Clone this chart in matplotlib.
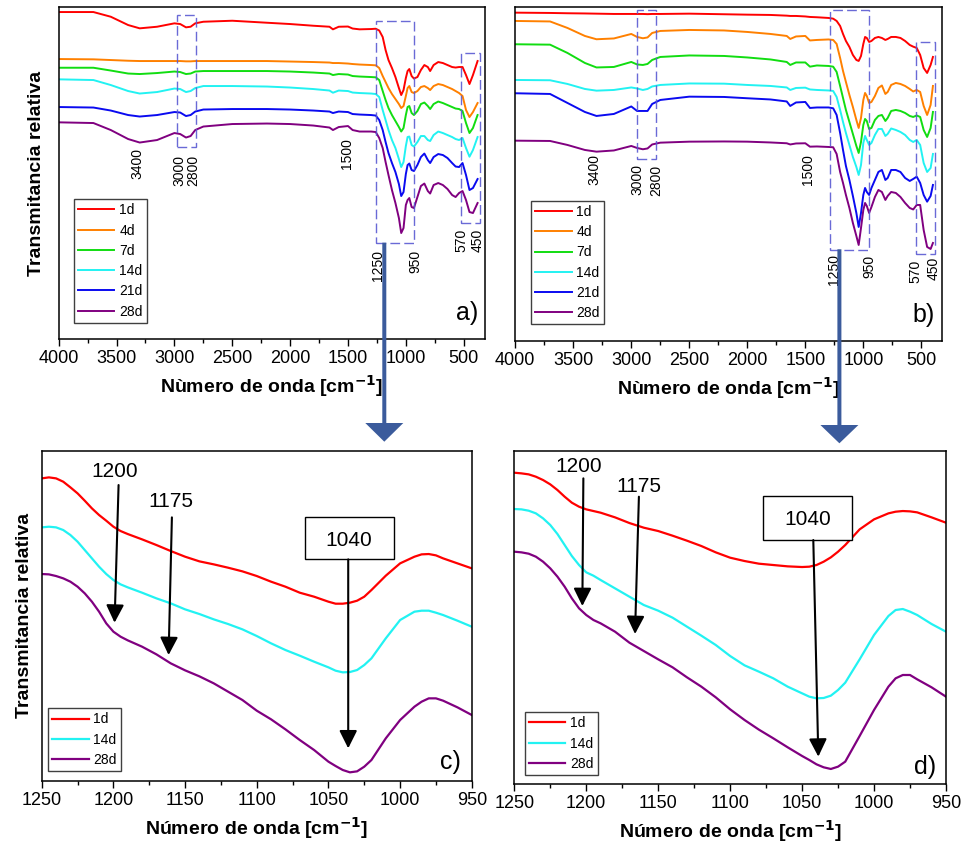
import matplotlib
matplotlib.use("Agg")
import matplotlib.pyplot as plt
from matplotlib.ticker import MultipleLocator
from matplotlib.patches import Rectangle, Polygon

plt.rcParams['font.family'] = ['Liberation Sans', 'DejaVu Sans']

# ---------------- data ----------------
wn_a = [4000, 3700, 3550, 3400, 3300, 3150, 3000, 2950, 2900, 2860, 2820, 2750, 2500, 2200, 2000, 1800,
        1660, 1630, 1580, 1500, 1460, 1400, 1300, 1260, 1230, 1200, 1175, 1150, 1120, 1090, 1060, 1040,
        1020, 1000, 985, 970, 950, 930, 900, 870, 840, 810, 790, 760, 720, 680, 640, 600, 570, 540, 510,
        480, 450, 420, 380]
wn_b = wn_a[:-1] + [400]

labels6 = ["1d", "4d", "7d", "14d", "21d", "28d"]
colors6 = ["#ff0000", "#ff8000", "#11dd11", "#22f2f2", "#0a0af0", "#800080"]

a_1d = [328, 328, 323.3, 315, 311.7, 313.3, 316.7, 316, 312.7, 313.3, 316.7, 318.3, 319.3, 317.3, 316, 314.3,
        313.3, 310.7, 313.3, 313.5, 311.5, 310.7, 311, 311.3, 309.5, 303, 290, 280, 272, 263, 252, 245, 250,
        262, 269, 271, 264, 261.5, 263, 270, 275, 273, 269, 275, 278, 277, 275, 273, 272.5, 273, 273, 265,
        256, 265, 279]
a_4d = [281, 280.7, 280, 279.3, 279, 279, 279, 279, 278.7, 278.7, 279, 279, 279, 279, 278.5, 278, 277.5,
        277, 277, 276.5, 276, 275.5, 275, 274.7, 272, 264, 258, 252, 246, 241, 236, 232, 234, 244, 252, 254,
        248, 247, 249, 253, 254, 252, 250, 254, 256, 255, 253, 251, 249, 247, 244, 230, 223, 228, 237]
a_7d = [272.3, 272.3, 269.5, 266.5, 266, 267, 268.5, 268, 266, 266.5, 268.5, 269, 269, 269, 268.5, 267.5,
        266.5, 265, 266, 265.5, 264, 263.5, 263, 262.7, 260, 249, 240, 232, 225, 219, 213, 208.5, 212, 225,
        233, 234, 227, 225, 229, 236, 237.5, 234, 231, 236, 238.5, 237, 235, 233, 231.5, 231, 229, 217, 207,
        212, 225]
a_14d = [260.7, 260, 255, 249, 246.5, 248, 251.5, 251, 248, 249, 252, 254, 254, 253.5, 252.5, 251, 249.5,
         247.3, 249.5, 249, 247.5, 247, 246.5, 246, 243, 230, 220, 210, 200, 192, 181, 173, 178, 194, 203,
         203.5, 195, 193.5, 198, 204, 204, 200, 199, 205, 208.5, 207, 205, 203, 201, 200, 202, 192, 183.3,
         190, 203]
a_21d = [233, 232.5, 229.5, 225, 223.5, 225, 228, 227.5, 224, 225, 228.5, 230.5, 231, 231, 230.5, 229.5,
         228.5, 227, 228.5, 228, 226, 225.5, 225, 224.5, 220, 210, 198, 187, 177, 168, 156, 144, 148, 166,
         175, 176.5, 170, 169, 175, 183, 186.5, 180, 177, 183, 186, 185, 182, 177, 173.5, 173, 177, 165, 150,
         152, 161]
a_28d = [217.7, 217, 210, 201, 197.5, 200, 207, 206, 202.5, 204, 210, 213.5, 216, 216.5, 216, 214.5, 212.5,
         210, 213, 214, 210, 208.5, 208.5, 208, 202, 192, 178, 165, 150, 137, 122, 107, 112, 135, 140, 142,
         133, 132, 143, 154, 156.5, 149, 146.5, 155, 157, 155, 151, 145, 143, 147, 149, 140, 128, 127, 137]

b_1d = [327.3, 327, 326.7, 326.5, 326.3, 326, 326, 326, 326, 325.8, 326, 326, 326.3, 325.7, 325.3, 325,
        324.3, 324, 324, 323.5, 323, 322.7, 322, 321.3, 319, 314, 306, 299, 293, 285, 280, 279, 284, 296,
        303, 302, 298, 299, 302, 303, 302, 300, 301, 303, 303, 302, 299, 295, 293.3, 292, 285, 272, 267,
        275, 283]
b_4d = [319, 318.5, 312, 304, 300.7, 301.5, 306, 303, 301.7, 302.5, 307, 309, 310, 309.5, 308, 306, 304,
        301, 303.5, 304, 299.5, 300, 300.5, 300, 296, 282, 269, 258, 245, 233, 220, 212, 222, 240, 247, 244,
        237, 238, 244, 252, 254.5, 246, 248, 255, 257, 256, 254, 251, 248.5, 250, 248, 234, 225, 235, 254]
b_7d = [295.7, 295.3, 287, 277, 272.5, 273, 278, 275.5, 275, 276, 280, 283, 284.5, 284, 282.5, 280.5, 278,
        275, 277.5, 277.5, 273.3, 274.5, 274, 273.3, 268, 254, 242, 230, 218, 206, 194, 187, 198, 215, 221,
        219, 211, 212, 220, 224, 225, 219, 222, 229, 230, 229, 227, 224, 223, 224.5, 223, 210, 203, 212, 228]
b_14d = [260, 259.7, 256, 251, 249.3, 250, 252.5, 251.5, 250, 251, 253.5, 255, 256.5, 256.3, 255, 254,
         252.5, 250, 252, 252.3, 250.5, 250, 249.5, 249, 243, 230, 218, 207, 195, 183, 173, 165, 175, 197,
         204, 200, 195, 197, 205, 211, 211, 204, 206, 211.5, 210, 208, 205, 200, 198, 200, 195, 177, 168,
         172, 186]
b_21d = [246.7, 246, 237, 228, 224, 226, 233.5, 229, 229, 229, 236, 240, 243.3, 243, 241.7, 240.5, 238.5,
         234, 237.5, 238, 232, 232.5, 232.5, 231.7, 225, 207, 190, 174, 160, 144, 127, 113, 127, 145, 152,
         148, 145, 152, 160, 168, 170, 160, 162, 170, 170, 168, 162, 159, 161, 163.3, 157, 145, 138.3, 144,
         155]
b_28d = [199.3, 199, 195, 190, 188.3, 189.5, 194, 192, 190.7, 191.5, 195.5, 197.3, 198.3, 198.5, 198.3,
         197.5, 196.7, 195.5, 196.5, 196.7, 193.3, 193.5, 193, 192.7, 186, 168, 157, 145, 132, 117, 104, 95,
         112, 130, 137, 134, 127, 133, 143, 150, 148, 140, 144, 148, 147, 143, 137, 132, 130.5, 135, 135,
         110, 93, 91, 97]

wn_z = [1250, 1245, 1240, 1235, 1230, 1225, 1220, 1215, 1210, 1205, 1200, 1195, 1190, 1180, 1170, 1160,
        1150, 1140, 1130, 1120, 1110, 1100, 1090, 1080, 1070, 1060, 1050, 1045, 1040, 1035, 1030, 1025,
        1020, 1010, 1000, 990, 985, 980, 975, 970, 960, 950]
labels3 = ["1d", "14d", "28d"]
colors3 = ["#ff0000", "#22f2f2", "#800080"]

c_1d = [908, 911, 908, 898, 881, 863, 841, 818, 798, 781, 763, 750, 741, 725, 708, 690, 673, 659, 650, 640,
        629, 615, 598, 583, 565, 553, 538, 532, 532, 535, 541, 553, 573, 616, 653, 673, 680, 681, 677, 668,
        653, 638]
c_14d = [761, 763, 761, 753, 738, 718, 693, 668, 643, 621, 603, 590, 581, 565, 548, 533, 515, 501, 485, 471,
         455, 435, 413, 393, 376, 358, 341, 331, 326, 327, 333, 348, 368, 428, 483, 508, 511, 511, 505, 498,
         481, 463]
c_28d = [621, 620, 615, 608, 598, 583, 563, 538, 508, 473, 448, 433, 422, 403, 380, 353, 332, 314, 293, 268,
         243, 211, 185, 155, 123, 93, 58, 45, 33, 26, 29, 43, 63, 128, 183, 223, 238, 248, 248, 241, 221, 198]

d_1d = [934, 932, 929, 922, 912, 899, 882, 862, 844, 832, 824, 819, 814, 800, 783, 769, 759, 745, 730, 714,
        695, 679, 669, 661, 657, 653, 651, 652, 657, 667, 680, 697, 717, 764, 794, 812, 817, 819, 818, 815,
        800, 784]
d_14d = [825, 824, 820, 812, 797, 777, 750, 717, 684, 657, 635, 625, 612, 587, 562, 537, 520, 499, 472, 445,
         417, 384, 356, 337, 317, 292, 272, 262, 257, 258, 265, 282, 304, 374, 447, 504, 522, 525, 517, 507,
         480, 457]
d_28d = [697, 695, 691, 682, 667, 647, 622, 592, 557, 527, 507, 492, 482, 457, 424, 399, 374, 350, 320, 292,
         260, 224, 192, 163, 137, 110, 84, 72, 59, 50, 45, 52, 67, 144, 222, 292, 317, 327, 327, 314, 290, 262]

# band labels for overview panels: (text, wavenumber, y)
bands_a = [("3400", 3321, 176.7), ("3000", 2960, 170), ("2800", 2837, 170), ("1500", 1511, 186.7),
           ("1250", 1238, 75), ("950", 921, 78.3), ("570", 517, 100), ("450", 379, 100)]
bands_b = [("3400", 3317, 170), ("3000", 2950, 160), ("2800", 2786, 160), ("1500", 1480, 170),
           ("1250", 1249, 70), ("950", 947, 73.3), ("570", 551, 68.3), ("450", 398, 71.7)]
# dashed boxes (wn_left, wn_right, y_bottom, y_top)
boxes_a = [(2980, 2813, 193.3, 325), (1261, 929, 97.3, 319.3), (523, 359, 116.7, 286.7)]
boxes_b = [(2950, 2786, 180.7, 330), (1284, 952, 90, 330), (549, 378, 86, 297.7)]

# zoom-panel arrows: (text, text_xy, tail_xy, head_xy)
arrows_c = [("1200", (1199.2, 928), (1196.4, 888), (1199.2, 475)),
            ("1175", (1159.9, 838), (1159.2, 791), (1161.5, 378))]
box_c = ("1040", (1035.7, 723), (1066.4, 1004.3, 665, 791), (1036.2, 665), (1036.2, 98))
arrows_d = [("1200", (1205.5, 954), (1202.0, 917), (1202.7, 534)),
            ("1175", (1163.1, 894), (1163.4, 862), (1166.1, 450))]
box_d = ("1040", (1046.2, 794), (1077, 1015.1, 732, 864), (1042.2, 732), (1038.7, 82))

# ---------------- figure ----------------
fig = plt.figure(figsize=(9.64, 8.48), dpi=100)

ax_a = fig.add_axes([0.0609, 0.6002, 0.4422, 0.3915])
ax_b = fig.add_axes([0.5345, 0.5979, 0.4423, 0.3939])
ax_c = fig.add_axes([0.0433, 0.0790, 0.4461, 0.3895])
ax_d = fig.add_axes([0.5335, 0.0755, 0.4478, 0.3930])

box_color = "#5a5ad2"


def style(ax, major, minor, xlabel):
    ax.xaxis.set_major_locator(MultipleLocator(major))
    ax.xaxis.set_minor_locator(MultipleLocator(minor))
    ax.set_yticks([])
    ax.tick_params(axis='x', which='major', direction='out', length=5, width=1, labelsize=13, pad=3)
    ax.tick_params(axis='x', which='minor', direction='out', length=3, width=1)
    for s in ax.spines.values():
        s.set_linewidth(1.1)
    ax.set_xlabel(xlabel, fontsize=14, fontweight='bold', labelpad=4)


def legend(ax, handles, anchor):
    lg = ax.legend(handles=handles, loc='lower left', bbox_to_anchor=anchor, borderaxespad=0,
                   fontsize=10, handlelength=2.6, handletextpad=0.35, labelspacing=0.45,
                   borderpad=0.3, fancybox=False, framealpha=1, edgecolor='#404040')
    lg.get_frame().set_linewidth(1.0)


for ax, wn, series, xl, bands, boxes, tag, anchor, yl in [
        (ax_a, wn_a, [a_1d, a_4d, a_7d, a_14d, a_21d, a_28d], (4000, 316), bands_a, boxes_a, "a)",
         (0.036, 0.049), (1, 333)),
        (ax_b, wn_b, [b_1d, b_4d, b_7d, b_14d, b_21d, b_28d], (4000, 325), bands_b, boxes_b, "b)",
         (0.0375, 0.05), (-1, 333))]:
    hs = []
    for ys, c, lab in zip(series, colors6, labels6):
        h, = ax.plot(wn, ys, color=c, lw=1.4, label=lab, solid_joinstyle='round')
        hs.append(h)
    ax.set_xlim(*xl)
    ax.set_ylim(*yl)
    style(ax, 500, 250, "Nùmero de onda [cm$^{\\mathbf{-1}}$]")
    for t, x, y in bands:
        ax.text(x, y, t, rotation=90, ha='center', va='center', fontsize=10)
    for x0, x1, y0, y1 in boxes:
        ax.add_patch(Rectangle((x0, y0), x1 - x0, y1 - y0, fill=False, ec=box_color, lw=1.0,
                               ls=(0, (7, 3)), alpha=0.9, zorder=5))
    ax.text(0.957, 0.077, tag, transform=ax.transAxes, fontsize=18, ha='center', va='center')
    legend(ax, hs, anchor)

ax_a.set_ylabel("Transmitancia relativa", fontsize=14, fontweight='bold', labelpad=10)

for ax, series, tag, anchor, yl, arrows, box, tagpos in [
        (ax_c, [c_1d, c_14d, c_28d], "c)", (0.0153, 0.030), (0, 991), arrows_c, box_c, (0.95, 0.058)),
        (ax_d, [d_1d, d_14d, d_28d], "d)", (0.0248, 0.027), (0, 1000), arrows_d, box_d, (0.951, 0.052))]:
    hs = []
    for ys, c, lab in zip(series, colors3, labels3):
        h, = ax.plot(wn_z, ys, color=c, lw=1.6, label=lab, solid_joinstyle='round')
        hs.append(h)
    ax.set_xlim(1250, 950)
    ax.set_ylim(*yl)
    style(ax, 50, 25, "Número de onda [cm$^{\\mathbf{-1}}$]")
    ap = dict(arrowstyle='-|>,head_length=0.6,head_width=0.3', mutation_scale=18, lw=1.5,
              color='black', shrinkA=0, shrinkB=0)
    for t, txy, tail, head in arrows:
        ax.text(txy[0], txy[1], t, ha='center', va='center', fontsize=15)
        ax.annotate('', xy=head, xytext=tail, arrowprops=ap)
    t, txy, (bx0, bx1, by0, by1), tail, head = box
    ax.add_patch(Rectangle((bx0, by0), bx1 - bx0, by1 - by0, fill=True, fc='white', ec='black', lw=1.0,
                           zorder=4))
    ax.text(txy[0], txy[1], t, ha='center', va='center', fontsize=15, zorder=5)
    ax.annotate('', xy=head, xytext=tail, arrowprops=ap, zorder=6)
    ax.text(tagpos[0], tagpos[1], tag, transform=ax.transAxes, fontsize=18, ha='center', va='center')
    legend(ax, hs, anchor)

ax_c.set_ylabel("Transmitancia relativa", fontsize=14, fontweight='bold', labelpad=6)

# big connecting arrows (figure pixel coordinates)
ov = fig.add_axes([0, 0, 1, 1], zorder=20)
ov.set_xlim(0, 964)
ov.set_ylim(848, 0)
ov.axis('off')
ov.patch.set_alpha(0)
arrow_col = "#3b5b9c"
for x, y0, yb, yt in [(384.3, 242.7, 423, 441.7), (839.4, 249.3, 425, 443.3)]:
    ov.add_patch(Polygon([(x - 2, y0), (x + 2, y0), (x + 2, yb), (x + 19, yb), (x, yt), (x - 19, yb),
                          (x - 2, yb)], closed=True, fc=arrow_col, ec='none'))

fig.savefig("out.png", dpi=100)
